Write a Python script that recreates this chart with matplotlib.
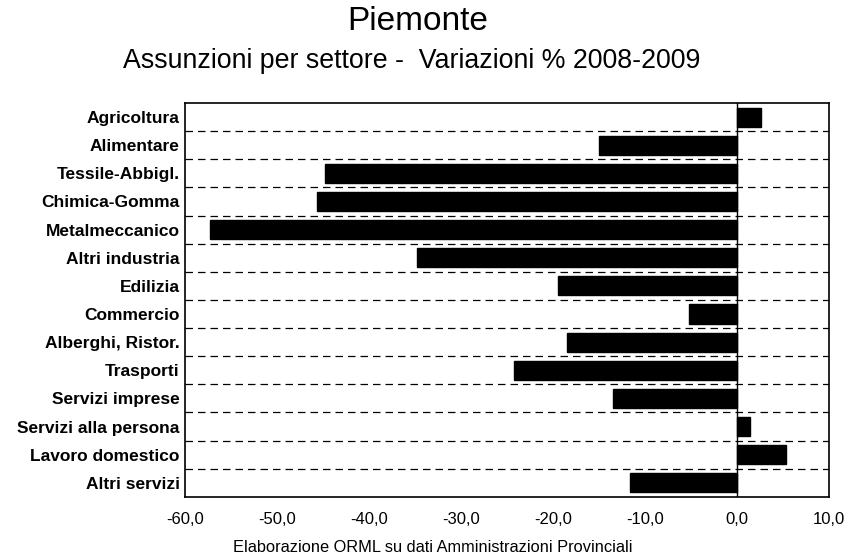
import matplotlib.pyplot as plt
import numpy as np

plt.rcParams['font.family'] = ['Liberation Sans', 'DejaVu Sans']

# Settori e variazioni % 2008-2009
settori = ["Agricoltura", "Alimentare", "Tessile-Abbigl.", "Chimica-Gomma",
           "Metalmeccanico", "Altri industria", "Edilizia", "Commercio",
           "Alberghi, Ristor.", "Trasporti", "Servizi imprese",
           "Servizi alla persona", "Lavoro domestico", "Altri servizi"]
variazioni = [2.6, -15.0, -44.8, -45.7, -57.3, -34.8, -19.5, -5.2,
              -18.5, -24.3, -13.5, 1.4, 5.3, -11.7]

xticks = [-60, -50, -40, -30, -20, -10, 0, 10]
xticklabels = ["-60,0", "-50,0", "-40,0", "-30,0", "-20,0", "-10,0", "0,0", "10,0"]

fig = plt.figure(figsize=(8.46, 5.57), dpi=100)
ax = fig.add_axes([0.219, 0.108, 0.761, 0.707])

y = np.arange(len(settori))
ax.barh(y, variazioni, height=0.68, color='black', edgecolor='black', zorder=3)

# linee tratteggiate tra le categorie
for b in y[:-1] + 0.5:
    ax.axhline(b, color='black', linestyle=(0, (6, 4)), linewidth=0.9, zorder=2)
ax.axvline(0, color='black', linewidth=1, zorder=4)

ax.set_xlim(-60, 10)
ax.set_ylim(len(settori) - 0.5, -0.5)
ax.set_yticks(y)
ax.set_yticklabels(settori, fontsize=12.5, fontweight='bold')
ax.set_yticks(y[:-1] + 0.5, minor=True)
ax.tick_params(axis='y', which='major', length=0, pad=4)
ax.tick_params(axis='y', which='minor', length=3, direction='in')
ax.set_xticks(xticks)
ax.set_xticklabels(xticklabels, fontsize=12)
ax.tick_params(axis='x', length=0, pad=11)

for s in ax.spines.values():
    s.set_linewidth(1.2)

fig.text(0.494, 0.946, "Piemonte", ha='center', va='baseline', fontsize=24)
fig.text(0.487, 0.878, "Assunzioni per settore -  Variazioni % 2008-2009",
         ha='center', va='baseline', fontsize=19.3)
fig.text(0.512, 0.009, "Elaborazione ORML su dati Amministrazioni Provinciali",
         ha='center', va='baseline', fontsize=11.8)

fig.savefig("out.png", dpi=100)
